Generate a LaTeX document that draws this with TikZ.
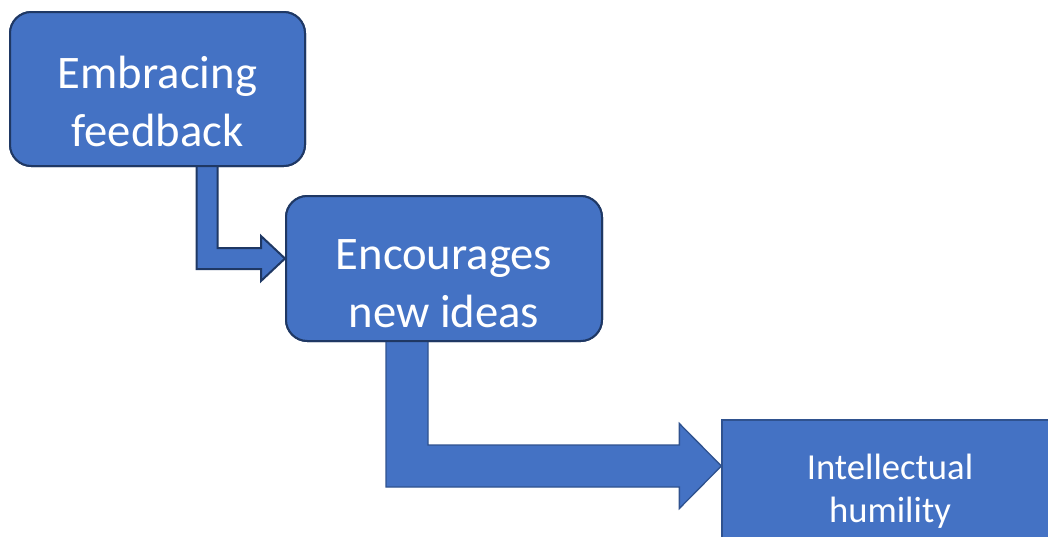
\documentclass[tikz,border=0pt]{standalone}
\usepackage{fontspec}
\setmainfont{Carlito}
\usetikzlibrary{calc}
\definecolor{boxblue}{HTML}{4472C4}
\definecolor{darkedge}{HTML}{1F3864}
\definecolor{lightedge}{HTML}{2F528F}
\tikzset{
 stepbox/.style={draw=darkedge,line width=1.5pt,fill=boxblue,rounded corners=16pt,inner sep=0pt},
 endbox/.style={draw=lightedge,line width=1pt,fill=boxblue,inner sep=0pt},
 bigtext/.style={text=white,align=center,inner sep=0pt,font=\fontsize{35}{43.5}\selectfont},
 smalltext/.style={text=white,align=center,inner sep=0pt,font=\fontsize{27.5}{32.5}\selectfont}
}
\begin{document}
\begin{tikzpicture}[x=0.75pt,y=-0.75pt]
\useasboundingbox (0,0) rectangle (1048,536);
% boxes first, so the arrows can hook on their anchors
\node[stepbox,minimum width=221.25pt,minimum height=115.5pt] (feedback) at (157.5,89) {};
\node[stepbox,minimum width=237pt,minimum height=108.75pt] (ideas) at (444,268.5) {};
\node[endbox,minimum width=254.25pt,minimum height=105pt] (humility) at (891.5,490) {};
\coordinate (s1) at ($(feedback.south west)+(198,-10)$);
\coordinate (t1) at ($(ideas.west)+(0,-10)$);
\coordinate (s2) at ($(ideas.south west)+(122,-11)$);
\coordinate (t2) at ($(humility.west)+(0,-24)$);
% bent block arrows
\draw[fill=boxblue,draw=darkedge,line width=1.5pt,line join=miter]
 ($(s1)+(-10.5,0)$) -- ($(s1 |- t1)+(-10.5,10.5)$) -- ($(t1)+(-24,10.5)$) -- ($(t1)+(-24,22.5)$)
 -- (t1) -- ($(t1)+(-24,-22.5)$) -- ($(t1)+(-24,-10.5)$) -- ($(s1 |- t1)+(10.5,-10.5)$)
 -- ($(s1)+(10.5,0)$) -- cycle;
\draw[fill=boxblue,draw=lightedge,line width=1pt,line join=miter]
 ($(s2)+(-21,0)$) -- ($(s2 |- t2)+(-21,21)$) -- ($(t2)+(-42,21)$) -- ($(t2)+(-42,42.5)$)
 -- (t2) -- ($(t2)+(-42,-42.5)$) -- ($(t2)+(-42,-21)$) -- ($(s2 |- t2)+(21,-21)$)
 -- ($(s2)+(21,0)$) -- cycle;
% redraw the two upper boxes over the arrow stems
\node[stepbox,minimum width=221.25pt,minimum height=115.5pt] at (feedback) {};
\node[stepbox,minimum width=237pt,minimum height=108.75pt] at (ideas) {};
\node[bigtext] (feedbacktext) at (157.5,101) {Embracing\\feedback};
\node[bigtext] (ideastext) at (444,284) {Encourages\\new ideas};
\node[smalltext] (humilitytext) at (890,491) {Intellectual\\humility};
\end{tikzpicture}
\end{document}
